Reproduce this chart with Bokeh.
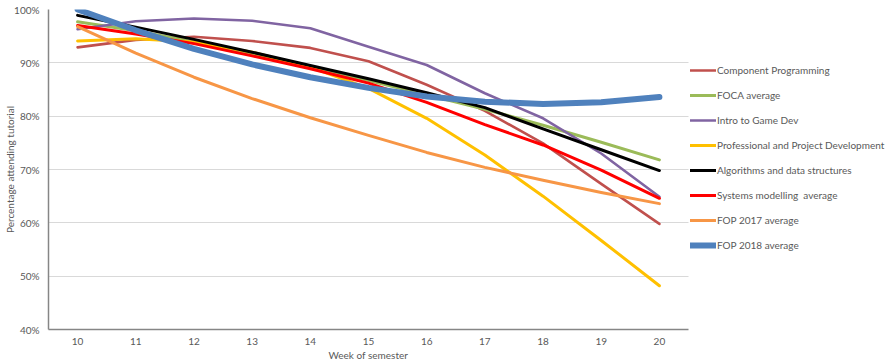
from bokeh.plotting import figure
from bokeh.models import Range1d, Legend, LegendItem, FixedTicker, PrintfTickFormatter, Title
from bokeh.embed import file_html
from bokeh.resources import INLINE

# Tutorial attendance (%) by week of semester, per unit (smoothed trend values)
weeks = [10, 11, 12, 13, 14, 15, 16, 17, 18, 19, 20]

component_programming = [92.9, 94.3, 94.9, 94.1, 92.8, 90.3, 85.9, 81.0, 74.9, 67.3, 59.8]
foca_average = [97.7, 96.0, 93.9, 91.6, 89.2, 86.7, 84.0, 81.3, 78.3, 75.1, 71.8]
intro_game_dev = [96.3, 97.8, 98.3, 97.9, 96.5, 93.0, 89.6, 84.3, 79.6, 73.0, 64.9]
prof_project_dev = [94.1, 94.5, 93.9, 92.0, 89.2, 85.2, 79.6, 72.7, 65.0, 56.7, 48.2]
algorithms_ds = [98.9, 96.7, 94.4, 92.0, 89.5, 87.0, 84.4, 81.6, 77.6, 73.7, 69.8]
systems_modelling = [97.0, 95.4, 93.6, 91.3, 88.9, 86.2, 82.6, 78.4, 74.6, 69.9, 64.6]
fop_2017 = [96.8, 91.8, 87.3, 83.3, 79.7, 76.4, 73.2, 70.4, 68.0, 65.7, 63.6]
fop_2018 = [100.0, 96.1, 92.6, 89.7, 87.3, 85.3, 83.7, 82.7, 82.3, 82.6, 83.6]

series_names = [
    "Component Programming",
    "FOCA average",
    "Intro to Game Dev",
    "Professional and Project Development",
    "Algorithms and data structures",
    "Systems modelling  average",
    "FOP 2017 average",
    "FOP 2018 average",
]
series_values = [
    component_programming, foca_average, intro_game_dev, prof_project_dev,
    algorithms_ds, systems_modelling, fop_2017, fop_2018,
]
series_colors = ["#C0504D", "#9BBB59", "#8064A2", "#FFC000",
                 "#000000", "#FF0000", "#F79646", "#4F81BD"]
series_widths = [2.6, 3, 2.6, 3, 3, 3, 3, 6]

y_ticks = [40, 50, 60, 70, 80, 90, 100]

FONT = "Lato"
TEXT_GRAY = "#595959"

W, H = 889, 362
LEFT, TOP, BOTTOM = 48, 9, 33
PLOT_W = 640                      # width of the week axis in pixels
WEEK_LO, WEEK_HI = 9.5, 20.5
px_per_week = PLOT_W / (WEEK_HI - WEEK_LO)
# the frame runs on to the right edge so the legend can sit beside the axis
x_end = WEEK_LO + (W - LEFT) / px_per_week

p = figure(
    width=W, height=H,
    output_backend="svg", toolbar_location=None,
    x_range=Range1d(WEEK_LO, x_end), y_range=Range1d(40, 100),
    min_border_left=LEFT, min_border_right=0,
    min_border_top=TOP, min_border_bottom=BOTTOM,
)
p.outline_line_color = None
p.background_fill_color = "white"
p.border_fill_color = "white"

# axes
p.xaxis.ticker = FixedTicker(ticks=weeks)
p.yaxis.ticker = FixedTicker(ticks=y_ticks)
p.yaxis.formatter = PrintfTickFormatter(format="%d%%")
p.xaxis.bounds = (WEEK_LO, WEEK_HI)
for ax in (p.xaxis, p.yaxis):
    ax.major_tick_line_color = None
    ax.minor_tick_line_color = None
    ax.major_tick_out = 0
    ax.minor_tick_out = 0
    ax.major_tick_in = 0
    ax.minor_tick_in = 0
    ax.axis_line_color = "#868686"
    ax.axis_line_width = 1.5
    ax.major_label_text_font = FONT
    ax.major_label_text_font_size = "10px"
    ax.major_label_text_color = TEXT_GRAY
p.xaxis.major_label_standoff = 8
p.yaxis.major_label_standoff = 9
p.yaxis.axis_label = "Percentage attending tutorial"
p.yaxis.axis_label_text_font = FONT
p.yaxis.axis_label_text_font_size = "10px"
p.yaxis.axis_label_text_font_style = "normal"
p.yaxis.axis_label_text_color = TEXT_GRAY
p.yaxis.axis_label_standoff = -5

# x-axis title, centred under the week axis
p.add_layout(Title(
    text="Week of semester", align="left", offset=280, standoff=-1,
    text_font=FONT, text_font_size="10px", text_font_style="normal",
    text_color=TEXT_GRAY,
), "below")

p.xgrid.grid_line_color = None
p.ygrid.grid_line_color = "#D9D9D9"
p.ygrid.grid_line_width = 1
p.ygrid.cross_bounds = (WEEK_LO, WEEK_HI)

# lines
items = []
for name, vals, col, w in zip(series_names, series_values, series_colors, series_widths):
    r = p.line(weeks, vals, line_color=col, line_width=w,
               line_join="round", line_cap="round")
    items.append(LegendItem(label=name, renderers=[r]))

legend = Legend(
    items=items, location=(PLOT_W + 2, 74),
    glyph_width=26, glyph_height=20, label_height=20,
    spacing=5, padding=0, margin=0, label_standoff=1,
    label_text_font=FONT, label_text_font_size="10px",
    label_text_color=TEXT_GRAY,
    border_line_color=None, background_fill_alpha=0,
)
p.add_layout(legend)

open("out.html", "w").write(file_html(p, INLINE))
